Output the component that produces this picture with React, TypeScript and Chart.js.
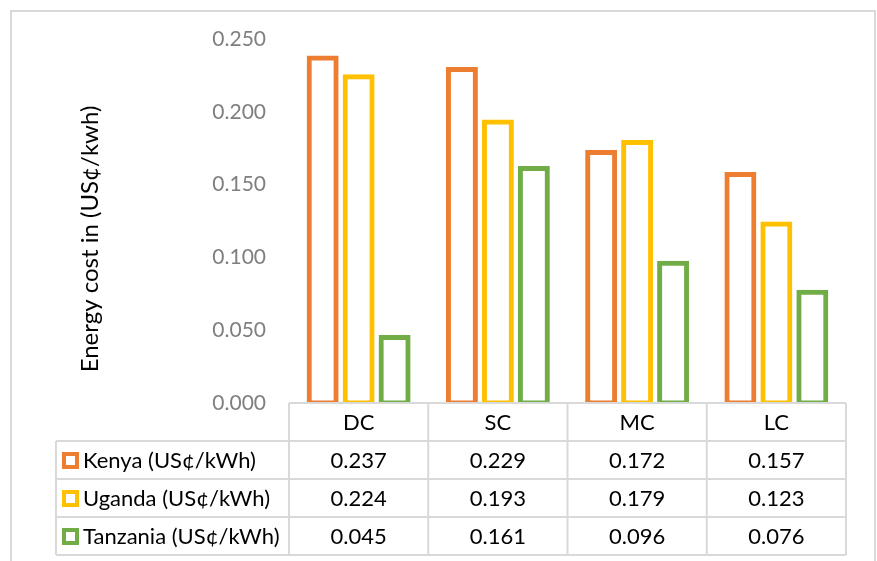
import React, { useEffect, useRef } from "react";
import { Chart, registerables } from "chart.js";

Chart.register(...registerables);

const categories = ["DC", "SC", "MC", "LC"];
const seriesNames = ["Kenya (US¢/kWh)", "Uganda (US¢/kWh)", "Tanzania (US¢/kWh)"];
const kenya = [0.237, 0.229, 0.172, 0.157];
const uganda = [0.224, 0.193, 0.179, 0.123];
const tanzania = [0.045, 0.161, 0.096, 0.076];
const colors = ["#ED7D31", "#FFC000", "#70AD47"];
const yTitle = "Energy cost in (US¢/kwh)";

const FONT = "Lato, 'Open Sans', sans-serif";

const tablePlugin = {
  id: "dataTable",
  afterDraw(chart: any) {
    const ctx = chart.ctx as CanvasRenderingContext2D;
    const x = chart.scales.x;
    const area = chart.chartArea;
    const n = categories.length;
    const cw = (area.right - area.left) / n;
    const top = area.bottom;
    const rowH = 38;
    const legendLeft = 56;
    ctx.save();
    // outer border
    ctx.strokeStyle = "#d9d9d9";
    ctx.lineWidth = 2;
    ctx.strokeRect(11, 11, 864, 600);

    // y title
    ctx.save();
    ctx.translate(90, 239);
    ctx.rotate(-Math.PI / 2);
    ctx.fillStyle = "#000";
    ctx.font = `24px ${FONT}`;
    ctx.textAlign = "center";
    ctx.textBaseline = "middle";
    ctx.fillText(yTitle, 0, 0);
    ctx.restore();

    // table lines
    ctx.strokeStyle = "#d9d9d9";
    ctx.lineWidth = 2;
    ctx.beginPath();
    ctx.moveTo(area.left, top);
    ctx.lineTo(area.right, top);
    for (let r = 1; r <= 4; r++) {
      const yy = top + r * rowH;
      ctx.moveTo(legendLeft, yy);
      ctx.lineTo(area.right, yy);
    }
    for (let c = 0; c <= n; c++) {
      const xx = area.left + c * cw;
      ctx.moveTo(xx, top);
      ctx.lineTo(xx, top + 4 * rowH);
    }
    ctx.moveTo(legendLeft, top + rowH);
    ctx.lineTo(legendLeft, top + 4 * rowH);
    ctx.stroke();

    ctx.fillStyle = "#000";
    ctx.font = `22px ${FONT}`;
    ctx.textBaseline = "middle";
    ctx.textAlign = "center";
    categories.forEach((c, i) => {
      ctx.fillText(c, x.getPixelForValue(i), top + rowH / 2 + 1);
    });
    const rows = [kenya, uganda, tanzania];
    rows.forEach((vals, r) => {
      const cy = top + rowH * (r + 1) + rowH / 2 + 1;
      ctx.textAlign = "center";
      ctx.fillStyle = "#000";
      vals.forEach((v, i) => {
        ctx.fillText(v.toFixed(3), x.getPixelForValue(i), cy);
      });
      // legend marker
      ctx.fillStyle = colors[r];
      ctx.fillRect(62, cy - 9, 17, 17);
      ctx.fillStyle = "#fff";
      ctx.fillRect(66, cy - 5, 9, 9);
      ctx.fillStyle = "#000";
      ctx.textAlign = "left";
      ctx.fillText(seriesNames[r], 83, cy);
    });
    ctx.restore();
  },
};

export default function App() {
  const ref = useRef<HTMLCanvasElement>(null);
  useEffect(() => {
    document.body.style.margin = "0";
    const chart = new Chart(ref.current!, {
      type: "bar",
      data: {
        labels: categories,
        datasets: [kenya, uganda, tanzania].map((d, i) => ({
          label: seriesNames[i],
          data: d,
          backgroundColor: "#ffffff",
          borderColor: colors[i],
          borderWidth: 5,
          borderSkipped: false,
          inflateAmount: 2.5,
          categoryPercentage: 0.775,
          barPercentage: 0.75,
        })),
      },
      options: {
        responsive: false,
        animation: false,
        layout: { padding: { left: 0, right: 31, top: 39, bottom: 158 } },
        plugins: { legend: { display: false }, tooltip: { enabled: false } },
        scales: {
          x: { display: false },
          y: {
            min: 0,
            max: 0.25,
            afterFit: (axis: any) => {
              axis.width = 289;
            },
            grid: { display: false, drawTicks: false },
            border: { display: false },
            ticks: {
              stepSize: 0.05,
              padding: 23,
              color: "#7f7f7f",
              font: { family: FONT, size: 21 },
              callback: (v: any) => Number(v).toFixed(3),
            },
          },
        },
      },
      plugins: [tablePlugin],
    });
    return () => chart.destroy();
  }, []);
  return <canvas ref={ref} width={877} height={561} style={{ display: "block" }} />;
}
